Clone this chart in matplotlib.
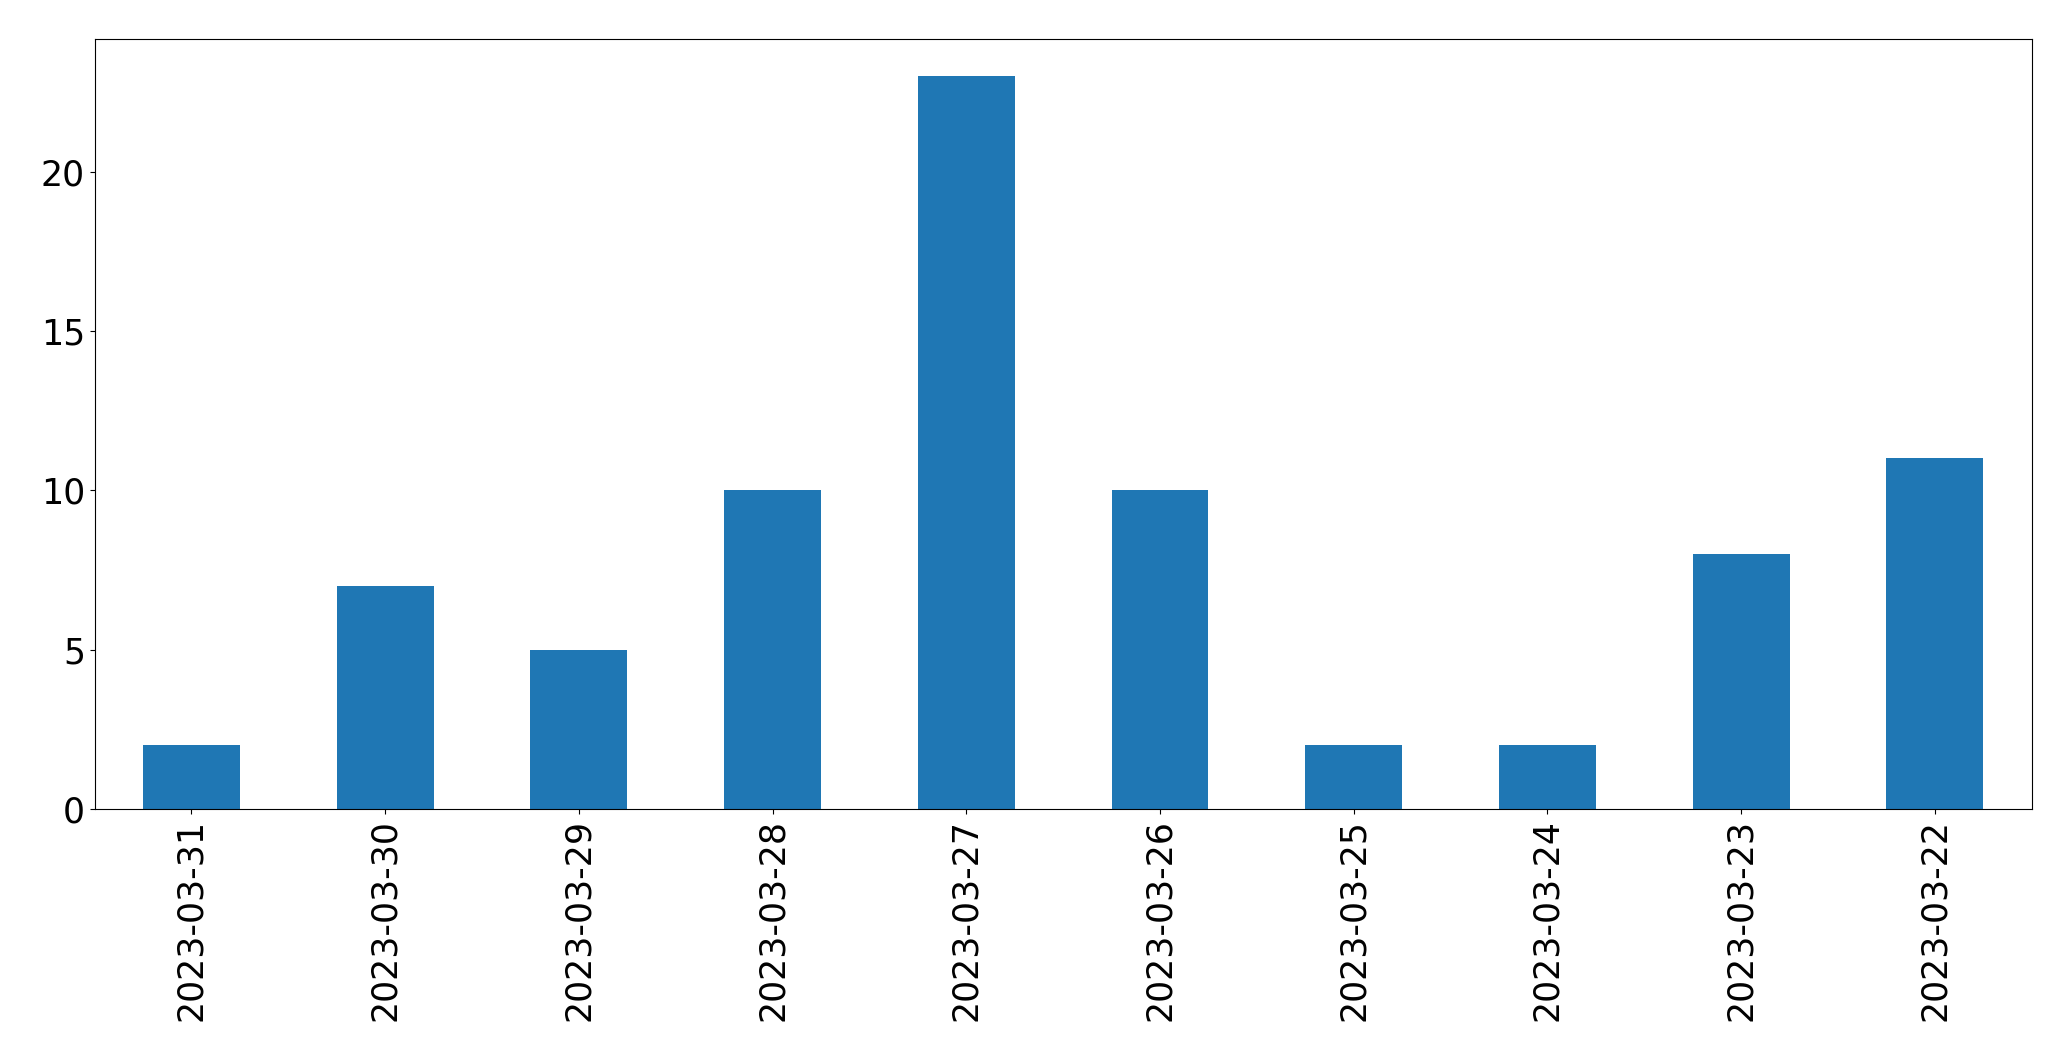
import matplotlib
matplotlib.use("Agg")
import matplotlib.pyplot as plt
import pandas as pd

dates = ["2023-03-31", "2023-03-30", "2023-03-29", "2023-03-28", "2023-03-27",
         "2023-03-26", "2023-03-25", "2023-03-24", "2023-03-23", "2023-03-22"]
counts = [2, 7, 5, 10, 23, 10, 2, 2, 8, 11]

s = pd.Series(counts, index=dates)

fig = plt.figure(figsize=(20.71, 10.61), dpi=100)
ax = fig.add_axes([0.0457, 0.2375, 0.981 - 0.0457, 0.9628 - 0.2375])
s.plot(kind="bar", ax=ax, color="#1f77b4")
ax.tick_params(axis="both", labelsize=25)
fig.savefig("out.png", dpi=100)
